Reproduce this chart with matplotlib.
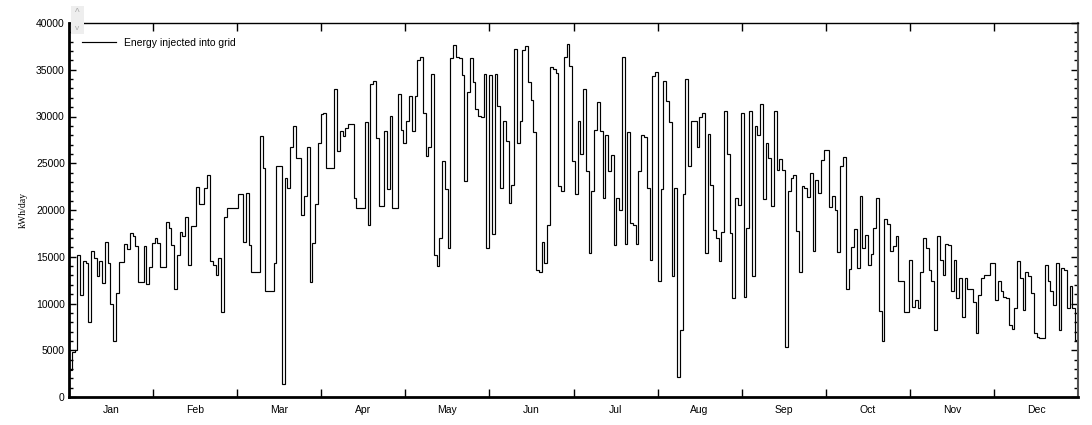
import numpy as np
import matplotlib
matplotlib.use('Agg')
import matplotlib.pyplot as plt
from matplotlib.patches import Rectangle
from matplotlib.ticker import MultipleLocator, FixedLocator, NullFormatter

# daily energy injected into grid (kWh/day)
jan = [2860, 4830, 5000, 15200, 10900, 14500, 14300, 8050, 15600, 14900, 12900, 14500, 12200, 16600, 14300,
       9900, 6000, 11100, 14400, 14400, 16400, 15800, 17500, 17200, 16200, 12300, 12300, 16200, 12100, 13900, 16500]
feb = [17000, 16500, 13900, 13900, 18700, 18100, 16300, 11500, 15200, 17700, 17200, 19300, 14100, 18300,
       18300, 22500, 20600, 20600, 22400, 23700, 14500, 14100, 13100, 14900, 9100, 19300, 20200, 20200]
mar = [20200, 20200, 21700, 21700, 16600, 21800, 16300, 13400, 13400, 13400, 27900, 24500, 11300, 11300, 11300,
       14300, 24700, 24700, 1430, 23400, 22400, 26700, 29000, 25600, 25600, 19500, 21500, 26700, 12350, 16500, 20600]
apr = [27200, 30300, 30400, 24500, 24500, 24500, 32900, 26300, 28500, 27900, 28800, 29200, 29200, 21300, 20200,
       20200, 20200, 29400, 18400, 33500, 33800, 27700, 20400, 20400, 28400, 22200, 30100, 20200, 20200, 32400]
may = [28600, 27200, 29500, 32200, 28500, 32200, 36000, 36400, 30400, 25800, 26700, 34500, 15200, 14000, 17000,
       25200, 22200, 15900, 36300, 37700, 36400, 36300, 34400, 23100, 32600, 36300, 33700, 30800, 30100, 29900, 34500]
jun = [15900, 34400, 17400, 34500, 31100, 22400, 29500, 27400, 20800, 22700, 37200, 27200, 29500, 37100, 37500,
       33700, 31800, 28300, 13600, 13400, 16600, 14300, 18400, 35300, 35100, 34600, 22600, 22000, 36400, 37800]
jul = [35400, 25200, 21700, 29500, 26000, 32900, 24200, 15400, 22000, 28600, 31500, 28500, 21300, 28000, 24200,
       25900, 16300, 21300, 20000, 36400, 16400, 28300, 18600, 18400, 16400, 24200, 28000, 27800, 22400, 14600, 34300]
aug = [34800, 12400, 22200, 33800, 31700, 29400, 12900, 22400, 2150, 7200, 21700, 34000, 24700, 29500, 29500,
       26700, 29900, 30400, 15400, 28100, 22700, 17900, 17000, 14500, 17600, 30600, 26000, 17500, 10600, 21300, 20500]
sep = [30400, 10700, 18100, 30600, 12900, 29000, 28000, 31300, 21200, 27200, 25600, 20400, 30600, 24300, 25500,
       24300, 5400, 22000, 23400, 23700, 17800, 13400, 22600, 22400, 21400, 24000, 15600, 23200, 21800, 25300]
oct_ = [26400, 26400, 20300, 21500, 20000, 15500, 24700, 25700, 11600, 13700, 16000, 18000, 13800, 21500, 15900,
        17300, 14100, 15300, 18100, 21300, 9200, 6000, 19000, 18500, 15600, 16200, 17200, 12400, 12400, 9100, 9100]
nov = [14600, 9600, 10400, 9500, 13400, 17000, 15900, 13600, 12400, 7200, 17200, 14700, 13100, 16400, 16300,
       11300, 14600, 10600, 12700, 8600, 12700, 11600, 11500, 10200, 6800, 10900, 12700, 13100, 13100, 14300]
dec = [14300, 10400, 12400, 11300, 10700, 10600, 7700, 7300, 9500, 14500, 12700, 9300, 13400, 12900, 11100,
       6800, 6400, 6300, 6300, 14100, 12400, 11300, 9800, 14300, 7200, 13800, 13600, 9500, 11900, 9500, 6100]

months = ['Jan', 'Feb', 'Mar', 'Apr', 'May', 'Jun', 'Jul', 'Aug', 'Sep', 'Oct', 'Nov', 'Dec']

energy = np.array(jan + feb + mar + apr + may + jun + jul + aug + sep + oct_ + nov + dec, dtype=float)
n_days = len(energy)

plt.rcParams['font.family'] = ['Liberation Sans', 'DejaVu Sans']

fig = plt.figure(figsize=(10.92, 4.25), dpi=100)
ax = fig.add_axes([69 / 1092, 1 - 397 / 425, (1078 - 69) / 1092, (397 - 23) / 425])

ax.stairs(energy, np.arange(n_days + 1), color='black', linewidth=0.85, baseline=None,
          label='Energy injected into grid')

ax.set_xlim(0, n_days)
ax.set_ylim(0, 40000)

# month boundaries as ticks, month names centred between them
step = n_days / 12
ax.xaxis.set_minor_locator(FixedLocator([i * step for i in range(1, 12)]))
ax.xaxis.set_major_locator(FixedLocator([(i + 0.5) * step for i in range(12)]))
ax.set_xticklabels(months)
ax.xaxis.set_minor_formatter(NullFormatter())
ax.tick_params(axis='x', which='major', length=0, pad=6, labelsize=7.5)
ax.tick_params(axis='x', which='minor', direction='in', length=6, width=1, top=True, bottom=True)

ax.yaxis.set_major_locator(MultipleLocator(5000))
ax.yaxis.set_minor_locator(MultipleLocator(1000))
ax.tick_params(axis='y', which='major', direction='in', length=5, width=1, left=True, right=True,
               labelsize=7.5, pad=3)
ax.tick_params(axis='y', which='minor', direction='in', length=3, width=1, left=True, right=True)

ax.spines['left'].set_linewidth(2)
ax.spines['bottom'].set_linewidth(2)
ax.spines['top'].set_linewidth(1)
ax.spines['right'].set_linewidth(1.5)
ax.spines['right'].set_color('#555555')

ax.set_ylabel('kWh/day', fontfamily='Liberation Serif', fontsize=7, labelpad=6)

ax.legend(loc='upper left', frameon=False, fontsize=7.5, handlelength=3.2, handletextpad=0.8,
          bbox_to_anchor=(0.004, 0.985))

# small scroll spinner in the top left corner
fig.patches.append(Rectangle((71 / 1092, 1 - 34 / 425), 13 / 1092, 28 / 425, transform=fig.transFigure,
                             facecolor='#eeeeee', edgecolor='none', zorder=0))
fig.text(77.5 / 1092, 1 - 13 / 425, '^', fontsize=7, color='#aaaaaa', ha='center', va='center')
fig.text(77.5 / 1092, 1 - 29 / 425, 'v', fontsize=6, color='#aaaaaa', ha='center', va='center')

plt.savefig('out.png', dpi=100)
